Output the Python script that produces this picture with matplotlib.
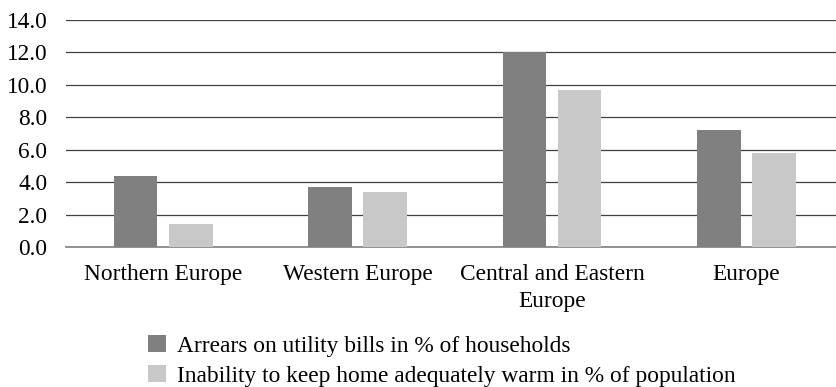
import matplotlib

matplotlib.use("Agg")
import matplotlib.pyplot as plt
import numpy as np

regions = ["Northern Europe", "Western Europe", "Central and Eastern\nEurope", "Europe"]
arrears = [4.4, 3.7, 12.0, 7.2]
cold_home = [1.4, 3.4, 9.7, 5.8]
series_names = ["Arrears on utility bills in % of households",
                "Inability to keep home adequately warm in % of population"]
yticks = [0, 2, 4, 6, 8, 10, 12, 14]

plt.rcParams["font.family"] = ["Liberation Serif", "DejaVu Serif"]
plt.rcParams["font.size"] = 16.8

W, H = 836, 387
fig = plt.figure(figsize=(W / 100, H / 100), dpi=100)
# plot area runs a little past the right edge of the canvas
ax = fig.add_axes([66 / W, 1 - 247 / H, 777.6 / W, 227 / H])

x = np.arange(len(regions))
off, bw = 0.142, 0.224
ax.bar(x - off, arrears, bw, color="#808080", label=series_names[0], zorder=3)
ax.bar(x + off, cold_home, bw, color="#c8c8c8", label=series_names[1], zorder=3)

ax.set_xlim(-0.5, len(regions) - 0.5)
ax.set_ylim(0, 14)
ax.set_yticks(yticks)
ax.set_yticklabels([f"{v:.1f}" for v in yticks])
ax.yaxis.grid(True, color="#404040", lw=0.9, zorder=0)
ax.set_xticks(x)
ax.set_xticklabels(regions, linespacing=1.4)
ax.tick_params(axis="both", length=0)
ax.tick_params(axis="y", pad=13.5)
ax.tick_params(axis="x", pad=12)
for side in ("top", "right", "left"):
    ax.spines[side].set_visible(False)
ax.spines["bottom"].set_color("#7f7f7f")
ax.spines["bottom"].set_linewidth(1.2)

fig.legend(loc="center left", bbox_to_anchor=(148 / W, 1 - 361 / H),
           frameon=False, handlelength=0.75, handleheight=0.72,
           handletextpad=0.5, labelspacing=0.36, borderaxespad=0,
           borderpad=0)

fig.savefig("out.png", dpi=100)
